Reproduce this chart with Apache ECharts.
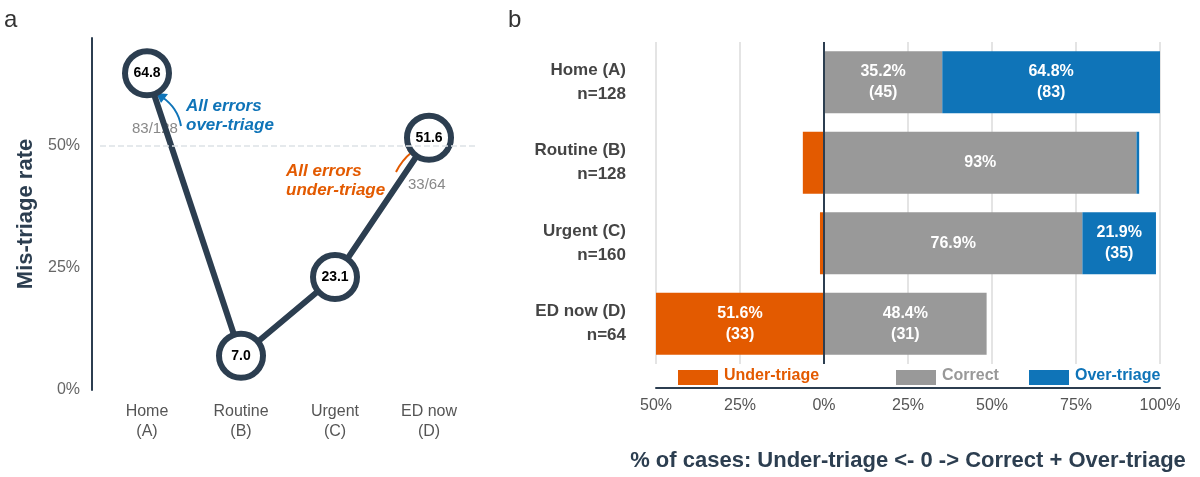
<!DOCTYPE html>
<html>
<head>
<meta charset="utf-8">
<script src="https://cdn.jsdelivr.net/npm/echarts@6/dist/echarts.min.js"></script>
<style>html,body{margin:0;padding:0;background:#fff}#main{width:1200px;height:477px}</style>
</head>
<body>
<div id="main"></div>
<script>
var chart = echarts.init(document.getElementById('main'));
var navy = '#2c3e50', orange = '#e35a00', blue = '#0f74b8', grey = '#999999';

// panel a
var levels = ['Home\n(A)', 'Routine\n(B)', 'Urgent\n(C)', 'ED now\n(D)'];
var rate = [64.8, 7.0, 23.1, 51.6];

// panel b
var rows = ['Home (A)\nn=128', 'Routine (B)\nn=128', 'Urgent (C)\nn=160', 'ED now (D)\nn=64'];
var under = [0, 6.3, 1.2, 51.6];
var correct = [35.2, 93, 76.9, 48.4];
var over = [64.8, 0.8, 21.9, 0];
var underN = [0, 8, 2, 33], correctN = [45, 119, 123, 31], overN = [83, 1, 35, 0];

function lbl(show) {
  return { show: true, color: '#fff', fontWeight: 'bold', fontSize: 16, lineHeight: 21,
    formatter: show };
}

var option = {
  animation: false,
  textStyle: { fontFamily: 'Liberation Sans, Arial, sans-serif' },
  grid: [
    { left: 100, width: 376, top: 38, height: 352 },
    { left: 656, width: 504, top: 42, height: 324 }
  ],
  xAxis: [
    { gridIndex: 0, type: 'category', data: levels, boundaryGap: true,
      axisLine: { show: false }, axisTick: { show: false },
      axisLabel: { color: '#555', fontSize: 16, lineHeight: 20, margin: 12 } },
    { gridIndex: 1, type: 'value', min: -50, max: 100, interval: 25, offset: 24,
      axisLine: { show: true, lineStyle: { color: navy, width: 2 } }, axisTick: { show: false },
      axisLabel: { color: '#555', fontSize: 16, margin: 10, formatter: function (v) { return Math.abs(v) + '%'; } },
      splitLine: { show: true, lineStyle: { color: '#e4e4e4', width: 2 } },
      name: '% of cases: Under-triage <- 0 -> Correct + Over-triage', nameLocation: 'middle', nameGap: 62,
      nameTextStyle: { color: navy, fontSize: 22, fontWeight: 'bold' } }
  ],
  yAxis: [
    { gridIndex: 0, type: 'value', min: 0, max: 72, interval: 25, offset: 8,
      axisLine: { show: true, lineStyle: { color: navy, width: 2 } }, axisTick: { show: false },
      splitLine: { show: false },
      axisLabel: { color: '#666', fontSize: 16, margin: 12, formatter: '{value}%',
        showMaxLabel: false },
      name: 'Mis-triage rate', nameLocation: 'middle', nameGap: 55,
      nameTextStyle: { color: navy, fontSize: 22, fontWeight: 'bold' } },
    { gridIndex: 1, type: 'category', data: rows, inverse: true,
      axisLine: { show: false }, axisTick: { show: false },
      axisLabel: { color: '#444', fontSize: 17, fontWeight: 'bold', lineHeight: 24, margin: 30, align: 'right' } }
  ],
  series: [
    { type: 'line', xAxisIndex: 0, yAxisIndex: 0, data: rate,
      lineStyle: { color: navy, width: 6 }, symbol: 'circle', symbolSize: 44,
      itemStyle: { color: '#fff', borderColor: navy, borderWidth: 6 },
      label: { show: true, position: 'inside', color: '#000', fontWeight: 'bold', fontSize: 14,
        formatter: function (p) { return p.value.toFixed(1); } },
      markLine: { silent: true, symbol: 'none', label: { show: false },
        lineStyle: { color: '#dde2e6', type: 'dashed', width: 1.5 }, data: [{ yAxis: 50 }] },
      z: 3 },
    { name: 'Under-triage', type: 'bar', xAxisIndex: 1, yAxisIndex: 1, stack: 'all', barWidth: 62,
      data: under.map(function (v) { return -v; }), itemStyle: { color: orange },
      label: lbl(function (p) { return underN[p.dataIndex] > 10 ? under[p.dataIndex] + '%\n(' + underN[p.dataIndex] + ')' : ''; }) },
    { name: 'Correct', type: 'bar', xAxisIndex: 1, yAxisIndex: 1, stack: 'all', barWidth: 62,
      data: correct, itemStyle: { color: grey },
      label: lbl(function (p) { var i = p.dataIndex; return (i === 0 || i === 3) ? correct[i] + '%\n(' + correctN[i] + ')' : correct[i] + '%'; }),
      markLine: { silent: true, symbol: 'none', label: { show: false },
        lineStyle: { color: navy, type: 'solid', width: 2 }, data: [{ xAxis: 0 }] } },
    { name: 'Over-triage', type: 'bar', xAxisIndex: 1, yAxisIndex: 1, stack: 'all', barWidth: 62,
      data: over, itemStyle: { color: blue },
      label: lbl(function (p) { return overN[p.dataIndex] > 10 ? over[p.dataIndex] + '%\n(' + overN[p.dataIndex] + ')' : ''; }) }
  ],
  graphic: [
    { type: 'text', left: 4, top: 8, style: { text: 'a', fontSize: 24, fill: '#333' } },
    { type: 'text', left: 508, top: 8, style: { text: 'b', fontSize: 24, fill: '#333' } },
    { type: 'text', left: 132, top: 121, style: { text: '83/128', fontSize: 15, fill: '#888' } },
    { type: 'text', left: 186, top: 97, style: { text: 'All errors\nover-triage', fontSize: 17, fontWeight: 'bold', fontStyle: 'italic', fill: blue, lineHeight: 19, align: 'left' } },
    { type: 'bezierCurve', shape: { x1: 181, y1: 126, cpx1: 178, cpy1: 108, x2: 162, y2: 97 }, style: { stroke: blue, lineWidth: 2, fill: null } },
    { type: 'polygon', shape: { points: [[156, 93], [168, 94], [161, 103]] }, style: { fill: blue } },
    { type: 'text', left: 286, top: 162, style: { text: 'All errors\nunder-triage', fontSize: 17, fontWeight: 'bold', fontStyle: 'italic', fill: orange, lineHeight: 19, align: 'right' } },
    { type: 'text', left: 408, top: 177, style: { text: '33/64', fontSize: 15, fill: '#888' } },
    { type: 'bezierCurve', shape: { x1: 396, y1: 172, cpx1: 402, cpy1: 160, x2: 412, y2: 152 }, style: { stroke: orange, lineWidth: 2, fill: null } },
    { type: 'polygon', shape: { points: [[419, 145], [416, 157], [407, 150]] }, style: { fill: orange } },
    { type: 'rect', shape: { x: 678, y: 370, width: 40, height: 15 }, style: { fill: orange } },
    { type: 'text', left: 724, top: 368, style: { text: 'Under-triage', fontSize: 16, fontWeight: 'bold', fill: orange } },
    { type: 'rect', shape: { x: 896, y: 370, width: 40, height: 15 }, style: { fill: grey } },
    { type: 'text', left: 942, top: 368, style: { text: 'Correct', fontSize: 16, fontWeight: 'bold', fill: grey } },
    { type: 'rect', shape: { x: 1029, y: 370, width: 40, height: 15 }, style: { fill: blue } },
    { type: 'text', left: 1075, top: 368, style: { text: 'Over-triage', fontSize: 16, fontWeight: 'bold', fill: blue } }
  ]
};
chart.setOption(option);
</script>
</body>
</html>
